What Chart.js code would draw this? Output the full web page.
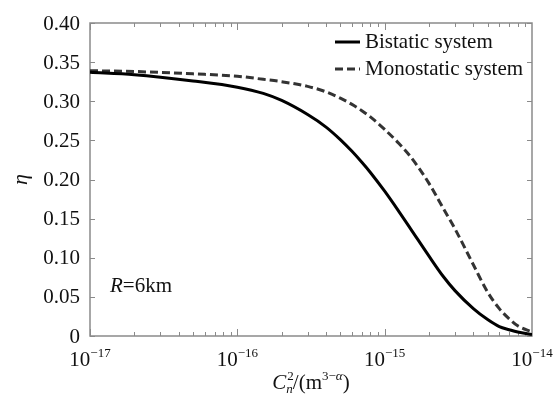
<!DOCTYPE html>
<html>
<head>
<meta charset="utf-8">
<script src="https://cdn.jsdelivr.net/npm/chart.js@4.4.1/dist/chart.umd.min.js"></script>
<style>
  html, body { margin: 0; padding: 0; background: #fff; }
  #wrap { width: 558px; height: 397px; }
</style>
</head>
<body>
<div id="wrap"><canvas id="chart"></canvas></div>
<script>
// turbulence strength C_n^2 (m^(3-alpha))
const cn2 = [1e-17, 2e-17, 5e-17, 1e-16, 1.5e-16, 2e-16, 3e-16, 4e-16, 5e-16, 6e-16, 7e-16, 8e-16,
             1e-15, 1.25e-15, 1.5e-15, 2e-15, 2.5e-15, 3e-15, 4e-15, 5e-15, 6e-15, 7e-15, 8e-15, 1e-14];
const bistatic = [0.337, 0.334, 0.326, 0.318, 0.310, 0.301, 0.283, 0.267, 0.251, 0.236, 0.222, 0.209,
                  0.185, 0.159, 0.137, 0.102, 0.076, 0.058, 0.035, 0.021, 0.012, 0.008, 0.005, 0.002];
const monostatic = [0.339, 0.338, 0.335, 0.332, 0.328, 0.325, 0.319, 0.312, 0.304, 0.296, 0.288, 0.280,
                    0.264, 0.246, 0.229, 0.195, 0.163, 0.137, 0.091, 0.056, 0.035, 0.022, 0.013, 0.005];

const seriesNames = ['Bistatic system', 'Monostatic system'];
const yTicks = [0, 0.05, 0.10, 0.15, 0.20, 0.25, 0.30, 0.35, 0.40];
const yTickLabels = ['0', '0.05', '0.10', '0.15', '0.20', '0.25', '0.30', '0.35', '0.40'];
const xTicks = [1e-17, 1e-16, 1e-15, 1e-14];
const xTickExps = ['\u221217', '\u221216', '\u221215', '\u221214'];

const SERIF = '"Liberation Serif", "Times New Roman", serif';
const AXIS = '#8a8a8a';

function pts(xs, ys) {
  return xs.map((x, i) => ({ x: x, y: ys[i] }));
}

// draws a row of text pieces, centred on cx
function drawRuns(ctx, runs, cx, baseline) {
  let total = 0;
  runs.forEach(r => {
    ctx.font = (r.italic ? 'italic ' : '') + r.size + 'px ' + SERIF;
    r.w = ctx.measureText(r.text).width;
    if (!r.stack) total += r.w;
  });
  let x = cx - total / 2;
  ctx.textAlign = 'left';
  ctx.textBaseline = 'alphabetic';
  runs.forEach(r => {
    ctx.font = (r.italic ? 'italic ' : '') + r.size + 'px ' + SERIF;
    ctx.fillText(r.text, x + (r.dx || 0), baseline + (r.dy || 0));
    if (!r.stack) x += r.w;
  });
}

const decor = {
  id: 'decor',
  beforeDatasetsDraw(chart) {
    const ctx = chart.ctx;
    const a = chart.chartArea;
    const xs = chart.scales.x, ys = chart.scales.y;
    ctx.save();
    ctx.strokeStyle = AXIS;
    ctx.lineWidth = 1.5;
    ctx.strokeRect(a.left, a.top, a.right - a.left, a.bottom - a.top);
    ctx.lineWidth = 1;
    ctx.beginPath();
    // y ticks, inward on both sides
    yTicks.forEach(v => {
      const y = Math.round(ys.getPixelForValue(v)) + 0.5;
      ctx.moveTo(a.left, y); ctx.lineTo(a.left + 5, y);
      ctx.moveTo(a.right, y); ctx.lineTo(a.right - 5, y);
    });
    // x ticks, major and minor, inward on bottom and top
    for (let d = -17; d < -14; d++) {
      for (let m = 1; m <= 9; m++) {
        const x = Math.round(xs.getPixelForValue(m * Math.pow(10, d))) + 0.5;
        const len = m === 1 ? 7 : 4;
        ctx.moveTo(x, a.bottom); ctx.lineTo(x, a.bottom - len);
        ctx.moveTo(x, a.top); ctx.lineTo(x, a.top + len);
      }
    }
    ctx.stroke();
    ctx.restore();
  },
  afterDraw(chart) {
    const ctx = chart.ctx;
    const a = chart.chartArea;
    const xs = chart.scales.x, ys = chart.scales.y;
    ctx.save();
    ctx.fillStyle = '#111';

    // y tick labels
    ctx.font = '21px ' + SERIF;
    ctx.textAlign = 'right';
    ctx.textBaseline = 'middle';
    yTicks.forEach((v, i) => ctx.fillText(yTickLabels[i], 80, ys.getPixelForValue(v) + 1));

    // x tick labels 10^n
    xTicks.forEach((v, i) => {
      drawRuns(ctx, [
        { text: '10', size: 21 },
        { text: xTickExps[i], size: 13, dy: -9 }
      ], xs.getPixelForValue(v), 366);
    });

    // x axis title
    drawRuns(ctx, [
      { text: 'C', size: 21, italic: true },
      { text: 'n', size: 13, italic: true, dy: 4, stack: true },
      { text: '2', size: 13, dy: -9, dx: 1 },
      { text: '/(m', size: 21 },
      { text: '3\u2212', size: 13, dy: -9 },
      { text: '\u03b1', size: 13, italic: true, dy: -9 },
      { text: ')', size: 21 }
    ], (a.left + a.right) / 2, 389);

    // y axis title
    ctx.save();
    ctx.translate(27, (a.top + a.bottom) / 2);
    ctx.rotate(-Math.PI / 2);
    ctx.font = 'italic 22px ' + SERIF;
    ctx.textAlign = 'center';
    ctx.textBaseline = 'alphabetic';
    ctx.fillText('\u03b7', 0, 0);
    ctx.restore();

    // annotation
    ctx.textAlign = 'left';
    ctx.textBaseline = 'alphabetic';
    ctx.font = 'italic 21px ' + SERIF;
    ctx.fillText('R', 110, 292);
    const rw = ctx.measureText('R').width;
    ctx.font = '21px ' + SERIF;
    ctx.fillText('=6km', 110 + rw, 292);

    // legend
    chart.data.datasets.forEach((ds, i) => {
      const y = 42 + i * 27;
      ctx.save();
      ctx.strokeStyle = ds.borderColor;
      ctx.lineWidth = 3;
      ctx.setLineDash(ds.borderDash || []);
      ctx.beginPath();
      ctx.moveTo(335, y); ctx.lineTo(360, y);
      ctx.stroke();
      ctx.restore();
      ctx.font = '21px ' + SERIF;
      ctx.textBaseline = 'middle';
      ctx.fillText(ds.label, 365, y);
    });
    ctx.restore();
  }
};

new Chart(document.getElementById('chart'), {
  type: 'line',
  data: {
    datasets: [
      {
        label: seriesNames[0],
        data: pts(cn2, bistatic),
        borderColor: '#000',
        borderWidth: 3,
        pointRadius: 0,
        cubicInterpolationMode: 'monotone'
      },
      {
        label: seriesNames[1],
        data: pts(cn2, monostatic),
        borderColor: '#333',
        borderWidth: 3,
        borderDash: [8, 4],
        pointRadius: 0,
        cubicInterpolationMode: 'monotone'
      }
    ]
  },
  options: {
    responsive: true,
    maintainAspectRatio: false,
    animation: false,
    layout: { padding: { left: 90, right: 26, top: 23, bottom: 61 } },
    plugins: { legend: { display: false }, tooltip: { enabled: false } },
    scales: {
      x: { type: 'logarithmic', min: 1e-17, max: 1e-14, display: false },
      y: { type: 'linear', min: 0, max: 0.4, display: false }
    }
  },
  plugins: [decor]
});
</script>
</body>
</html>
